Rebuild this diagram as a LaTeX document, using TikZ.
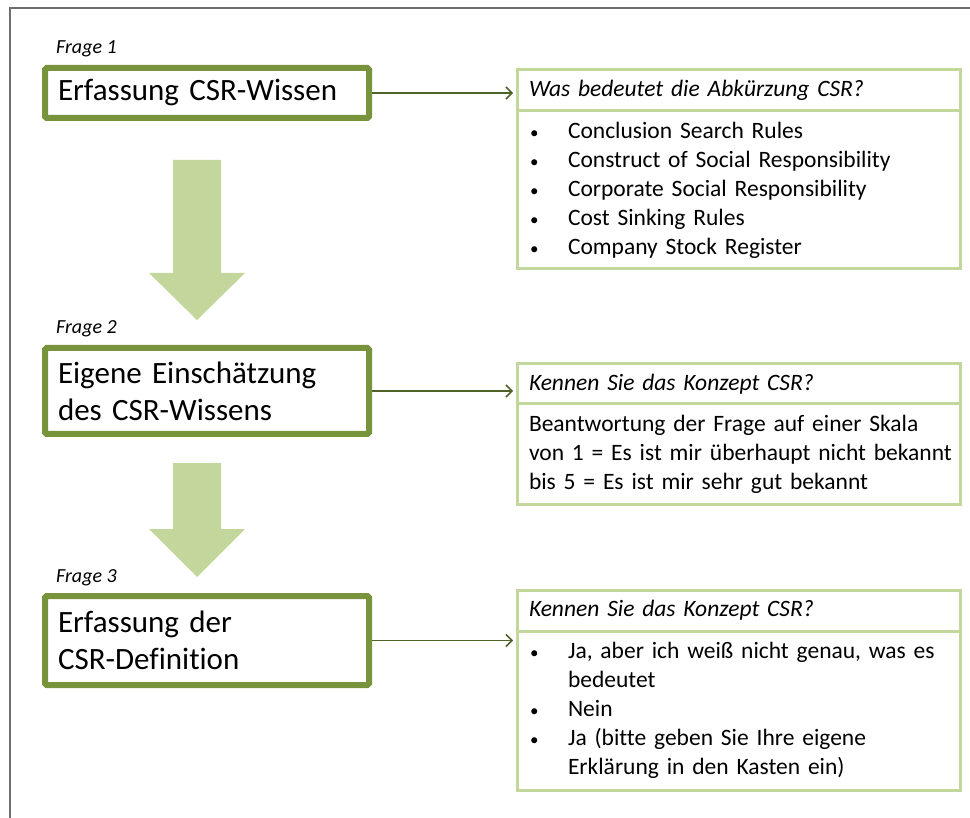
\documentclass[tikz,border=0pt]{standalone}
\usepackage{fontspec}
\setmainfont{Carlito}[Ligatures=NoCommon]
\usetikzlibrary{arrows.meta}
\definecolor{framegray}{HTML}{6F6F6F}
\definecolor{darkgreen}{HTML}{77933C}
\definecolor{lightgreen}{HTML}{C3D69B}
\definecolor{arrowgreen}{HTML}{4F6228}

\begin{document}
\begin{tikzpicture}[x=1pt,y=-1pt]
        \tikzstyle{qbox}=[draw=darkgreen,line width=6pt,rounded corners=1.5pt,fill=white,text width=298pt,inner xsep=13pt,align=left,font=\fontsize{31}{37}\selectfont]
        \tikzstyle{frage}=[anchor=base west,inner sep=0pt,font=\fontsize{20}{24}\selectfont\itshape]
        \tikzstyle{head}=[draw=lightgreen,line width=3pt,outer sep=0pt,text width=419pt,inner xsep=12pt,anchor=north west,align=left,font=\fontsize{23.5}{29}\selectfont\itshape]
        \tikzstyle{body}=[head,font=\fontsize{23.5}{29}\selectfont]
        \tikzstyle{conn}=[draw=arrowgreen,line width=1.5pt,-{Straight Barb[length=6pt,width=12pt]},shorten >=4pt]
        \tikzstyle{bigarrow}=[fill=lightgreen]
        \newcommand{\bul}{\makebox[39pt][l]{\hspace{1pt}{\fontsize{17}{17}\selectfont\textbullet}}}

            \useasboundingbox (0,0) rectangle (970,818);
            \draw[framegray,line width=1.5pt] (970,8) -- (10,8) -- (10,818);

            \node[qbox,minimum height=50pt] (q1) at (207,93) {Erfassung CSR-Wissen};
            \node[qbox,minimum height=86pt] (q2) at (207,391) {Eigene Einschätzung\\des CSR-Wissens};
            \node[qbox,minimum height=89pt] (q3) at (207,640.5) {Erfassung der\\CSR-Definition};

            \node[frage] (f1) at (56,54) {Frage 1};
            \node[frage] (f2) at (56,334) {Frage 2};
            \node[frage] (f3) at (56,582) {Frage 3};

            \node[head,minimum height=41pt] (h1) at (517,70) {Was bedeutet die Abkürzung CSR?};
            \node[body,minimum height=158pt] (b1) at (h1.south west) {\bul Conclusion Search Rules\\
              \bul Construct of Social Responsibility\\
              \bul Corporate Social Responsibility\\
              \bul Cost Sinking Rules\\
              \bul Company Stock Register};

            \node[head,minimum height=40pt] (h2) at (517,364) {Kennen Sie das Konzept CSR?};
            \node[body,minimum height=100pt] (b2) at (h2.south west) {\mbox{Beantwortung der Frage auf einer Skala}\\
              \mbox{von 1 = Es ist mir überhaupt nicht bekannt}\\
              \mbox{bis 5 = Es ist mir sehr gut bekannt}};

            \node[head,minimum height=41pt] (h3) at (517,590) {Kennen Sie das Konzept CSR?};
            \node[body,minimum height=159pt] (b3) at (h3.south west) {\bul Ja, aber ich weiß nicht genau, was es\\
              \hspace*{39pt}bedeutet\\
              \bul Nein\\
              \bul Ja (bitte geben Sie Ihre eigene\\
              \hspace*{39pt}Erklärung in den Kasten ein)};

            \draw[conn] (q1.east) -- (q1.east -| h1.west);
            \draw[conn] (q2.east) -- (q2.east -| h2.west);
            \draw[conn] (q3.east) -- (q3.east -| h3.west);

            \fill[bigarrow] (173,160) -- (221,160) -- (221,273) -- (245,273) -- (197,320) -- (149,273) -- (173,273) -- cycle;
            \fill[bigarrow] (173,463) -- (221,463) -- (221,529) -- (245,529) -- (197,577) -- (149,529) -- (173,529) -- cycle;
        \end{tikzpicture}
\end{document}
